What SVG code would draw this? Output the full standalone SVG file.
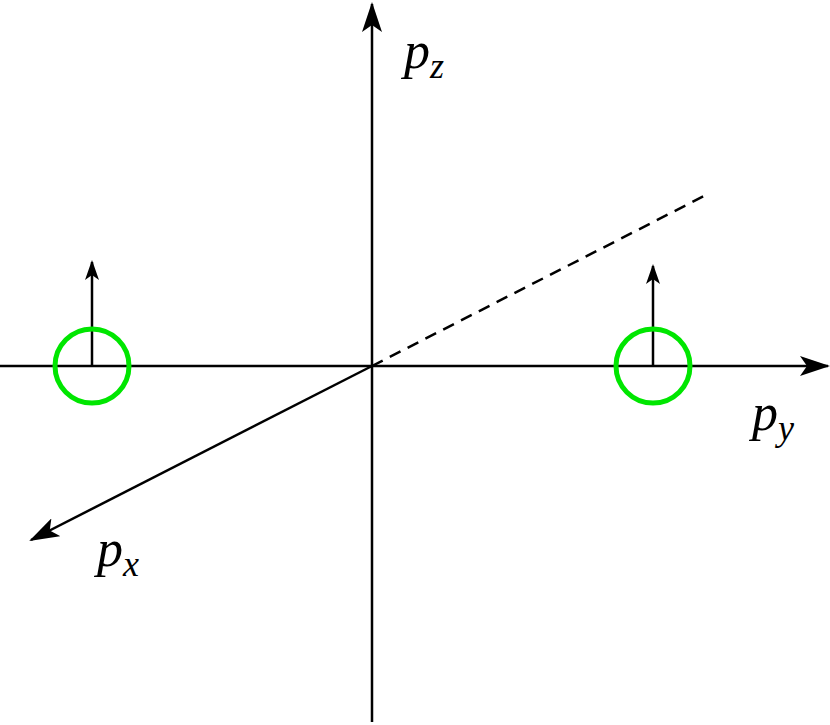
<svg xmlns="http://www.w3.org/2000/svg" width="830" height="725" viewBox="0 0 830 725">
<style>
.ax{stroke:#000;stroke-width:2.5;fill:none}
.c{stroke:#00e600;stroke-width:5;fill:none}
.t{font-family:"Liberation Serif",serif;font-style:italic;font-size:52px}
.s{font-size:36px}
</style>
<defs>
<marker id="ah" viewBox="0 0 20 14" refX="18" refY="7" markerWidth="20" markerHeight="14" markerUnits="userSpaceOnUse" orient="auto">
<path d="M0,0 L20,7 L0,14 L5,7 Z" fill="#000"/>
</marker>
<marker id="ab" viewBox="0 0 30 20" refX="28" refY="10" markerWidth="30" markerHeight="20" markerUnits="userSpaceOnUse" orient="auto">
<path d="M0,0 L30,10 L0,20 L7,10 Z" fill="#000"/>
</marker>
</defs>
<g id="connectors">
<line class="ax" x1="372" y1="722" x2="372" y2="4" marker-end="url(#ab)"/>
<line class="ax" x1="0" y1="366" x2="828" y2="366" marker-end="url(#ab)"/>
<line class="ax" x1="372" y1="366" x2="31" y2="540" marker-end="url(#ab)"/>
<line class="ax" x1="372" y1="366" x2="706" y2="195" stroke-dasharray="12,8"/>
<line class="ax" x1="92" y1="366" x2="92" y2="262" marker-end="url(#ah)"/>
<line class="ax" x1="653" y1="366" x2="653" y2="266" marker-end="url(#ah)"/>
</g>
<g id="left-circle"><circle class="c" cx="92" cy="366" r="37"/></g>
<g id="right-circle"><circle class="c" cx="653" cy="366" r="37"/></g>
<g id="labels">
<text class="t" x="404" y="68">p<tspan class="s" dy="10">z</tspan></text>
<text class="t" x="752" y="430">p<tspan class="s" dy="10">y</tspan></text>
<text class="t" x="97" y="566">p<tspan class="s" dy="10">x</tspan></text>
</g>
</svg>
